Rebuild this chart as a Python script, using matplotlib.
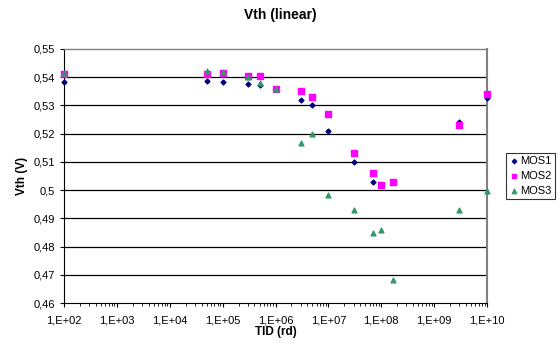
import numpy as np
from matplotlib import pyplot as plt
from matplotlib.ticker import LogLocator, FixedLocator, NullFormatter

plt.rcParams['font.family'] = ['Liberation Sans', 'DejaVu Sans']

# TID doses (rd) and threshold voltages
tid_mos1 = [1e2, 5e4, 1e5, 3e5, 5e5, 1e6, 3e6, 5e6, 1e7, 3e7, 7e7, 3e9, 1e10]
vth_mos1 = [0.5382, 0.5385, 0.5382, 0.5376, 0.5372, 0.536, 0.5318, 0.530, 0.5211, 0.510, 0.503, 0.524, 0.5328]

tid_mos2 = [1e2, 5e4, 1e5, 3e5, 5e5, 1e6, 3e6, 5e6, 1e7, 3e7, 7e7, 1e8, 1.7e8, 3e9, 1e10]
vth_mos2 = [0.541, 0.5413, 0.5414, 0.5404, 0.5404, 0.536, 0.535, 0.533, 0.5269, 0.513, 0.5061, 0.5018, 0.5028, 0.523, 0.534]

tid_mos3 = [1e2, 5e4, 1e5, 3e5, 5e5, 1e6, 3e6, 5e6, 1e7, 3e7, 7e7, 1e8, 1.7e8, 3e9, 1e10]
vth_mos3 = [0.5415, 0.5422, 0.5418, 0.540, 0.5381, 0.536, 0.5167, 0.520, 0.4981, 0.4931, 0.4849, 0.486, 0.468, 0.493, 0.4997]

x_ticks = [1e2, 1e3, 1e4, 1e5, 1e6, 1e7, 1e8, 1e9, 1e10]
x_labels = ['1,E+02', '1,E+03', '1,E+04', '1,E+05', '1,E+06', '1,E+07', '1,E+08', '1,E+09', '1,E+10']
y_ticks = [0.46, 0.47, 0.48, 0.49, 0.50, 0.51, 0.52, 0.53, 0.54, 0.55]
y_labels = ['0,46', '0,47', '0,48', '0,49', '0,5', '0,51', '0,52', '0,53', '0,54', '0,55']

fig = plt.figure(figsize=(5.6, 3.44), dpi=100)
ax = fig.add_axes([64 / 560, 1 - 303 / 344, (487 - 64) / 560, (303 - 49) / 344])

ax.scatter(tid_mos1, vth_mos1, marker='D', s=6, color='#000080', label='MOS1', zorder=3, clip_on=False)
ax.scatter(tid_mos2, vth_mos2, marker='s', s=14, color='#ff00ff', label='MOS2', zorder=3, clip_on=False)
ax.scatter(tid_mos3, vth_mos3, marker='^', s=12, color='#339966', label='MOS3', zorder=3, clip_on=False)

ax.set_xscale('log')
ax.set_xlim(1e2, 1e10)
ax.set_ylim(0.46, 0.55)
ax.xaxis.set_major_locator(FixedLocator(x_ticks))
ax.set_xticklabels(x_labels)
ax.xaxis.set_minor_locator(LogLocator(base=10, subs=np.arange(2, 10), numticks=20))
ax.xaxis.set_minor_formatter(NullFormatter())
ax.set_yticks(y_ticks)
ax.set_yticklabels(y_labels)

ax.tick_params(axis='both', which='major', labelsize=8, length=3, width=0.8, direction='out')
ax.tick_params(axis='x', which='major', pad=6)
ax.tick_params(axis='x', which='minor', length=2, width=0.6, direction='out')

for y in y_ticks[1:-1]:
    ax.axhline(y, color='black', linewidth=0.9, zorder=1)

ax.spines['left'].set_color('black')
ax.spines['bottom'].set_color('black')
ax.spines['top'].set_color('#808080')
ax.spines['right'].set_color('#808080')
ax.spines['top'].set_linewidth(1.0)
ax.spines['right'].set_linewidth(1.5)

fig.text(280 / 560, 1 - 15 / 344, 'Vth (linear)', ha='center', va='center', fontsize=10, fontweight='bold')
ax.set_xlabel('TID (rd)', fontsize=8.5, fontweight='bold', labelpad=0)
ax.set_ylabel('Vth (V)', fontsize=8.5, fontweight='bold', labelpad=4)

leg = ax.legend(loc='center left', bbox_to_anchor=(1.045, 0.5), fontsize=8, frameon=True,
                fancybox=False, edgecolor='black', handletextpad=0.1, borderpad=0.3,
                labelspacing=0.45, markerscale=0.9, handlelength=0.9, borderaxespad=0)
leg.get_frame().set_linewidth(0.8)

fig.savefig('out.png', dpi=100)
